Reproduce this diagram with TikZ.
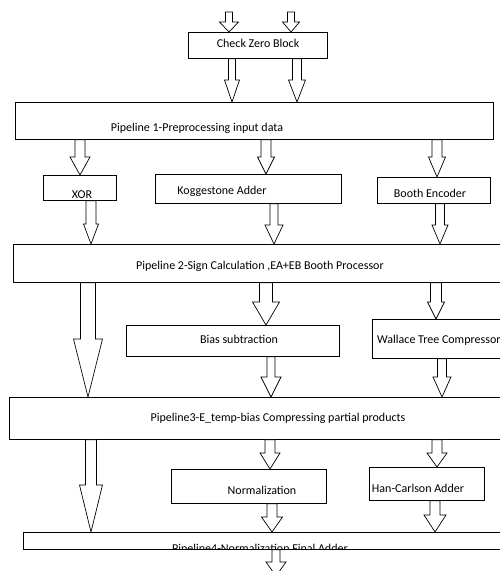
\documentclass[tikz,border=0pt]{standalone}
\usepackage{fontspec}
\setmainfont{Carlito}
\usetikzlibrary{calc}
\tikzset{
  box/.style={draw=black, line width=0.8pt, fill=white, inner sep=0pt},
  blockarr/.style={draw=black, line width=0.7pt, fill=white, line join=miter},
  lbl/.style={inner sep=0pt, font=\fontsize{12}{14}\selectfont},
}
\newcommand\mkbox[5]{\node[box,anchor=north west,minimum width={(#4-#2)*1pt},minimum height={(#5-#3)*1pt}] (#1) at (#2,#3) {};}
\newcommand\barrow[6]{\draw[blockarr] let \p1=(#2), \p2=(#3) in
  (#1pt-#4pt,\y1) -- (#1pt-#4pt,\y2+#6pt) -- (#1pt-#5pt,\y2+#6pt) -- (#1pt,\y2)
  -- (#1pt+#5pt,\y2+#6pt) -- (#1pt+#4pt,\y2+#6pt) -- (#1pt+#4pt,\y1) -- cycle;}
\begin{document}
\begin{tikzpicture}[x=1pt,y=-1pt]
\clip (0,0) rectangle (500,571);
\fill[white] (0,0) rectangle (500,571);
% boxes
\mkbox{cz}{188}{32}{327}{58}
\mkbox{p1}{15}{102}{493}{139}
\mkbox{xor}{43}{175}{116}{200}
\mkbox{kog}{155}{174}{341}{203}
\mkbox{booth}{377}{177}{490}{203}
\mkbox{p2}{13}{244}{520}{282}
\mkbox{bias}{126}{325}{339}{356}
\mkbox{wal}{372}{319}{530}{358}
\mkbox{p3}{9}{397}{520}{439}
\mkbox{norm}{171}{469}{326}{503}
\mkbox{han}{369}{467}{484}{500}
\mkbox{p4}{23}{532}{520}{549}
% labels
\node[lbl,anchor=base] (czt) at (258,47) {Check Zero Block};
\node[lbl,anchor=base] (p1t) at (197,131) {Pipeline 1-Preprocessing input data};
\node[lbl,anchor=base] (xort) at (82,198) {XOR};
\node[lbl,anchor=base] (kogt) at (222,194) {Koggestone Adder};
\node[lbl,anchor=base] (bootht) at (430,197) {Booth Encoder};
\node[lbl,anchor=base] (p2t) at (260,269) {Pipeline 2-Sign Calculation ,EA+EB Booth Processor};
\node[lbl,anchor=base] (biast) at (239,343) {Bias subtraction};
\node[lbl,anchor=base west] (walt) at (377,343) {Wallace Tree Compressor};
\node[lbl,anchor=base] (p3t) at (278,421) {Pipeline3-E\_temp-bias Compressing partial products};
\node[lbl,anchor=base] (normt) at (262,494) {Normalization};
\node[lbl,anchor=base] (hant) at (418,492) {Han-Carlson Adder};
\begin{scope}
\clip (23,532) rectangle (520,548.5);
\node[lbl,anchor=base] (p4t) at (260,552) {Pipeline4-Normalization Final Adder};
\end{scope}
% free ends
\coordinate (in1) at (229,12);
\coordinate (in2) at (291,12);
\coordinate (out) at (276,576);
% arrows
\barrow{229}{in1}{cz.north}{3.5}{9.5}{10}
\barrow{291}{in2}{cz.north}{3.5}{8.5}{10}
\barrow{232}{cz.south}{p1.north}{3.5}{7.5}{22}
\barrow{297}{cz.south}{p1.north}{4.5}{8.5}{22}
\barrow{80}{p1.south}{xor.north}{5}{10}{18}
\barrow{266}{p1.south}{kog.north}{5}{8.5}{17}
\barrow{437}{p1.south}{booth.north}{5}{8.5}{20}
\barrow{91}{xor.south}{p2.north}{5}{7.5}{20}
\barrow{274}{kog.south}{p2.north}{4}{9}{19}
\barrow{440}{booth.south}{p2.north}{4.5}{8}{19}
\barrow{88}{p2.south}{p3.north}{7.5}{14.5}{58}
\barrow{266}{p2.south}{bias.north}{6.5}{13.5}{23}
\barrow{436}{p2.south}{wal.north}{5.5}{8.5}{17}
\barrow{271}{bias.south}{p3.north}{4}{10}{20}
\barrow{442}{wal.south}{p3.north}{4.5}{9}{20}
\barrow{91}{p3.south}{p4.north}{5.5}{11.5}{47}
\barrow{270}{p3.south}{norm.north}{5}{10}{16}
\barrow{437}{p3.south}{han.north}{5}{10}{14}
\barrow{272}{norm.south}{p4.north}{5}{10.5}{15}
\barrow{435}{han.south}{p4.north}{5}{11}{17}
\barrow{276}{p4.south}{out}{4}{10}{14}
\end{tikzpicture}
\end{document}
